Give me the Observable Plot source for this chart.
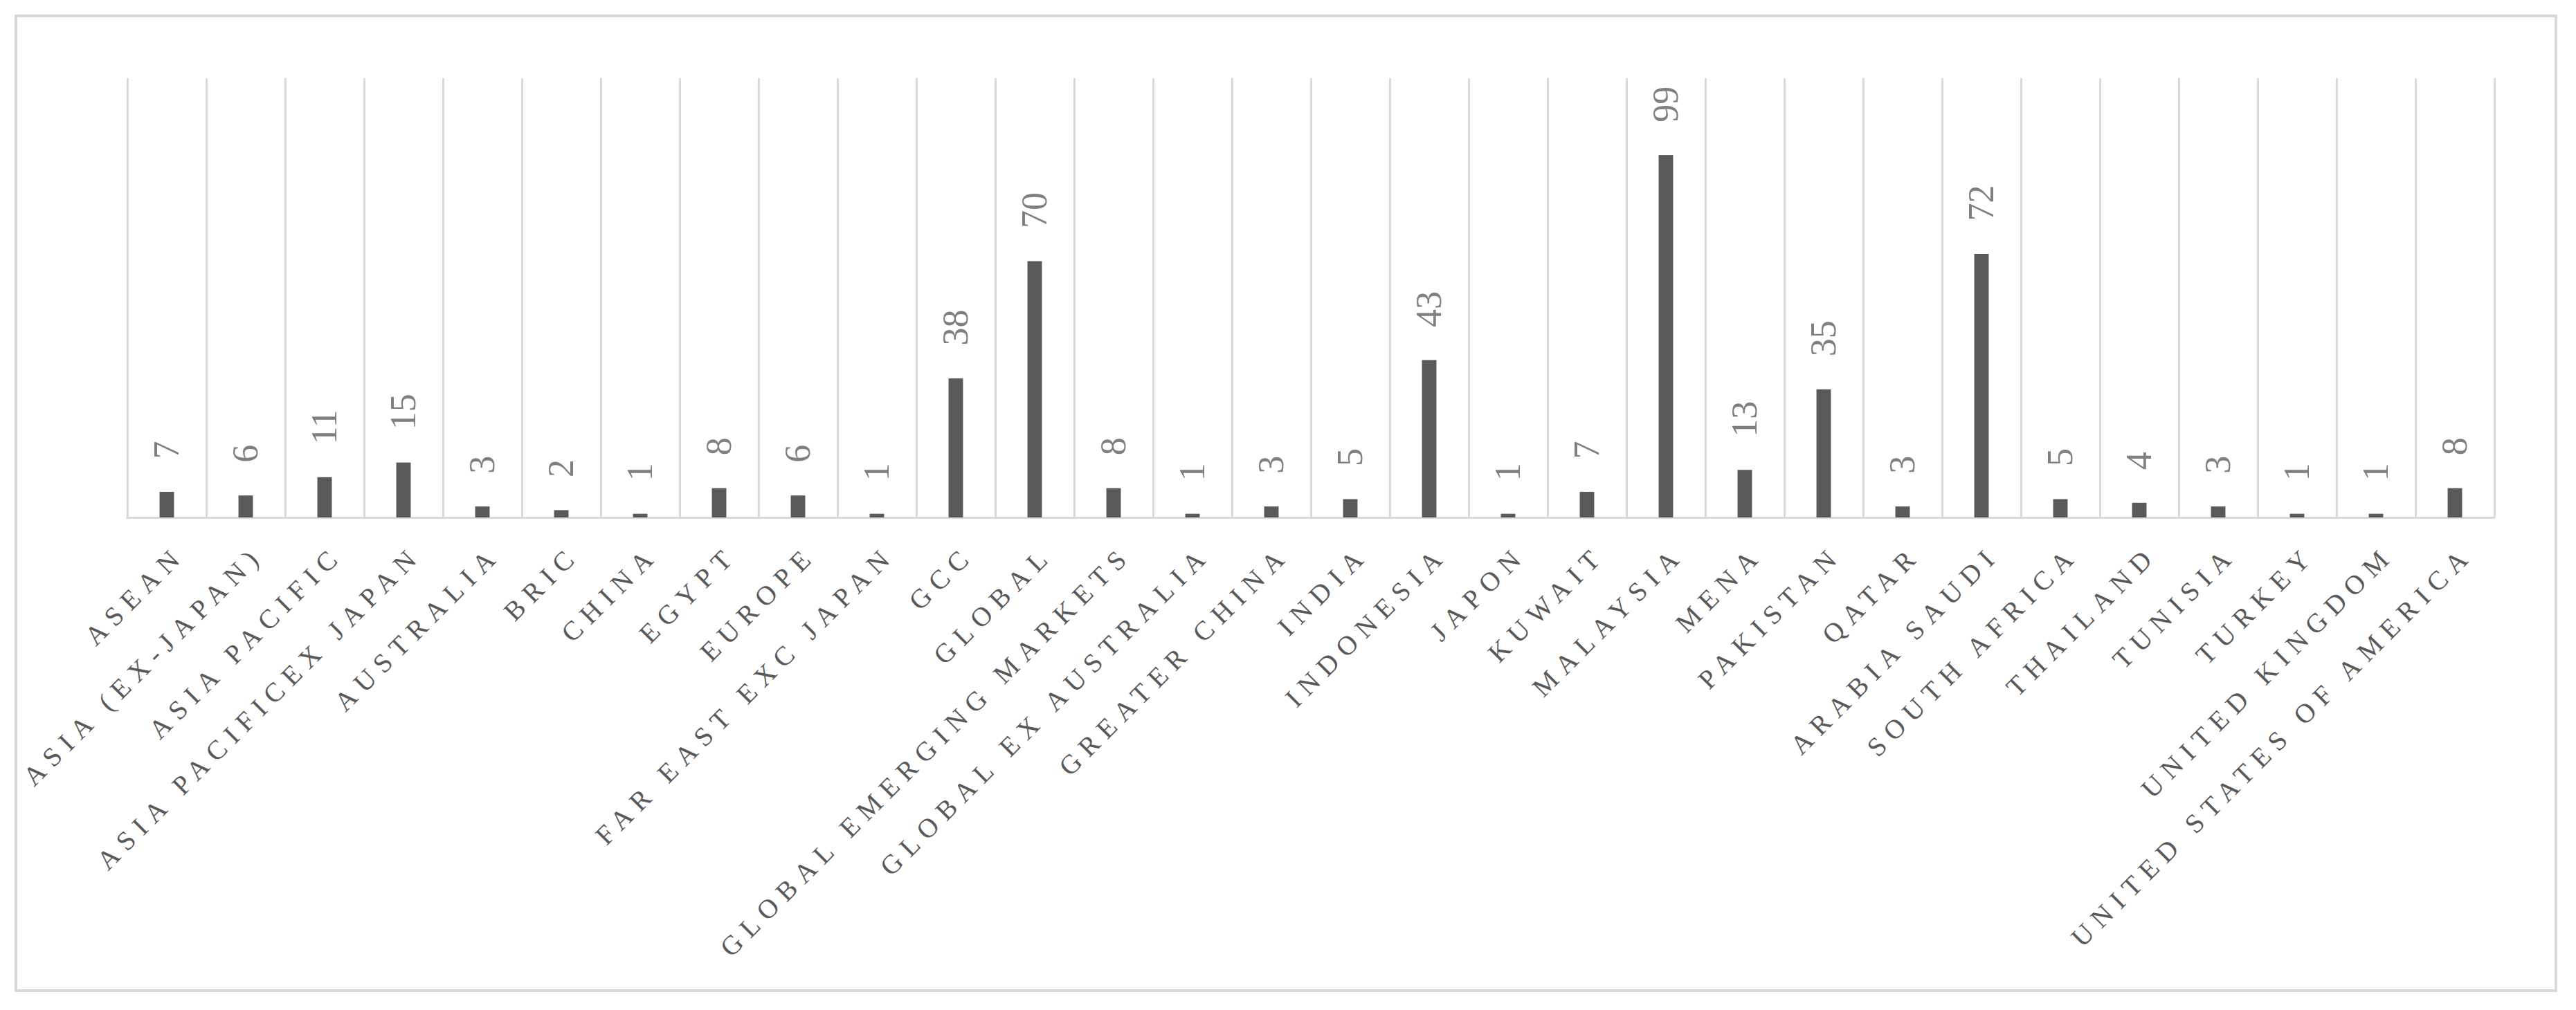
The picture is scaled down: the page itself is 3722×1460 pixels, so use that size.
<!DOCTYPE html>
<html>
<head>
<meta charset="utf-8">
<script src="https://cdn.jsdelivr.net/npm/d3@7"></script>
<script src="https://cdn.jsdelivr.net/npm/@observablehq/plot@0.6"></script>
<style>
  html, body { margin: 0; padding: 0; background: #fff; overflow: hidden; }
  #wrap { position: relative; width: 3722px; height: 1460px; }
  #border { position: absolute; left: 21px; top: 21px; width: 3674px; height: 1413px;
            box-sizing: border-box; border: 4px solid #d9d9d9; pointer-events: none; }
  #wrap g[aria-label="x-axis tick label"] text { letter-spacing: 11px; }
</style>
</head>
<body>
<div id="wrap"><div id="border"></div></div>
<script>
const categories = [
  "ASEAN", "ASIA (EX-JAPAN)", "ASIA PACIFIC", "ASIA PACIFICEX JAPAN", "AUSTRALIA",
  "BRIC", "CHINA", "EGYPT", "EUROPE", "FAR EAST EXC JAPAN",
  "GCC", "GLOBAL", "GLOBAL EMERGING MARKETS", "GLOBAL EX AUSTRALIA", "GREATER CHINA",
  "INDIA", "INDONESIA", "JAPON", "KUWAIT", "MALAYSIA",
  "MENA", "PAKISTAN", "QATAR", "ARABIA SAUDI", "SOUTH AFRICA",
  "THAILAND", "TUNISIA", "TURKEY", "UNITED KINGDOM", "UNITED STATES OF AMERICA"
];
const values = [7, 6, 11, 15, 3, 2, 1, 8, 6, 1, 38, 70, 8, 1, 3, 5, 43, 1, 7, 99, 13, 35, 3, 72, 5, 4, 3, 1, 1, 8];
const yDomain = [0, 120];

const data = categories.map((c, i) => ({category: c, value: values[i]}));

const W = 3722, H = 1460;
const mL = 182, mR = 117, mT = 113, mB = 712;
const bw = (W - mL - mR) / categories.length;
const font = "'Liberation Serif', 'DejaVu Serif', serif";

const chart = Plot.plot({
  width: W,
  height: H,
  marginLeft: mL,
  marginRight: mR,
  marginTop: mT,
  marginBottom: mB,
  style: {fontFamily: font, background: "transparent"},
  x: {type: "band", domain: categories, padding: 0},
  y: {domain: yDomain, axis: null},
  marks: [
    Plot.ruleX(categories, {x: d => d, y1: yDomain[0], y2: yDomain[1], dx: -bw / 2, stroke: "#d9d9d9", strokeWidth: 3}),
    Plot.ruleX(categories.slice(-1), {x: d => d, y1: yDomain[0], y2: yDomain[1], dx: bw / 2, stroke: "#d9d9d9", strokeWidth: 3}),
    Plot.ruleY([0], {stroke: "#d9d9d9", strokeWidth: 3}),
    Plot.barY(data, {x: "category", y: "value", fill: "#595959", insetLeft: (bw - 21) / 2, insetRight: (bw - 21) / 2}),
    Plot.text(data, {x: "category", y: "value", text: d => String(d.value), rotate: -90,
      textAnchor: "start", lineAnchor: "middle", dy: -48, fontSize: 52, fill: "#7f7f7f", fontFamily: font}),
    Plot.axisX({tickRotate: -45, tickSize: 0, tickPadding: 47, dx: 19, fontSize: 39,
      textAnchor: "end", lineAnchor: "middle", fill: "#595959", label: null, fontFamily: font})
  ]
});
document.getElementById("wrap").appendChild(chart);
chart.style.position = "absolute";
chart.style.left = "0px";
chart.style.top = "0px";
</script>
</body>
</html>
